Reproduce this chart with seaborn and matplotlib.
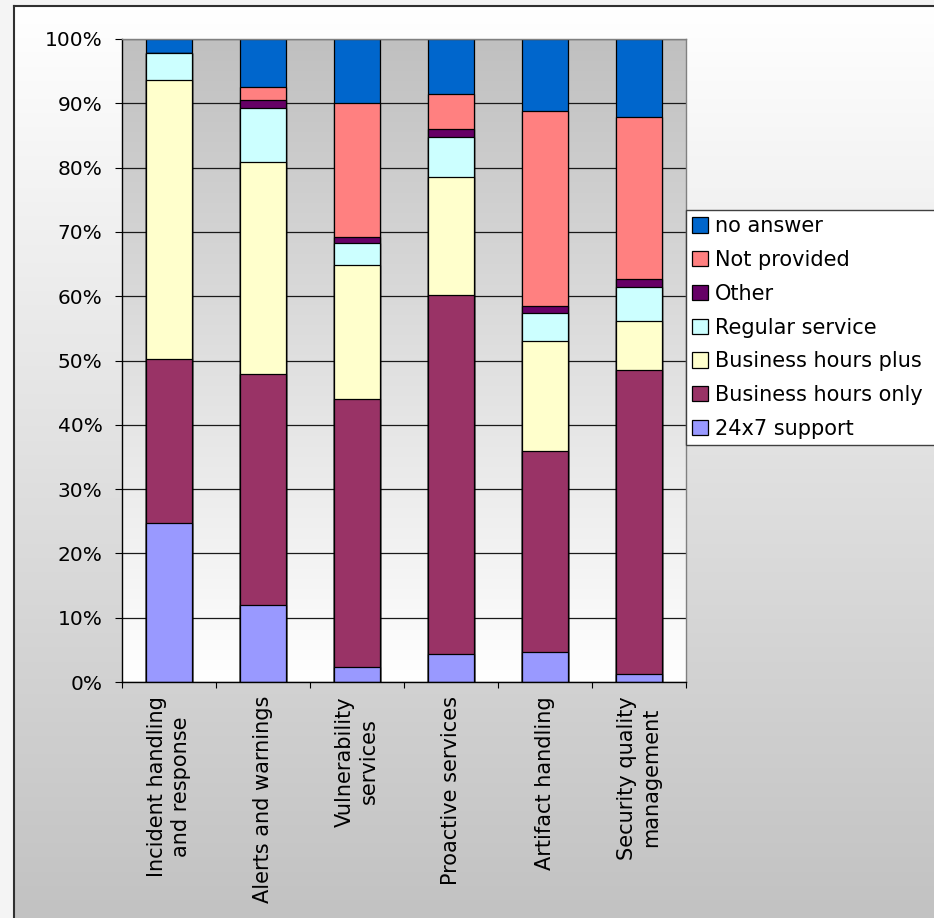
import numpy as np
import pandas as pd
import matplotlib
matplotlib.use("Agg")
import matplotlib.pyplot as plt
from matplotlib.colors import LinearSegmentedColormap
from matplotlib.ticker import FixedLocator
import seaborn as sns

# Service categories (x axis)
services = [
    "Incident handling\nand response",
    "Alerts and warnings",
    "Vulnerability\nservices",
    "Proactive services",
    "Artifact handling",
    "Security quality\nmanagement",
]

# Availability levels, bottom of the stack first
levels = [
    "24x7 support",
    "Business hours only",
    "Business hours plus",
    "Regular service",
    "Other",
    "Not provided",
    "no answer",
]

# Share of respondents per level (percent), one value per service
support_24x7 = [24.7, 11.9, 2.3, 4.4, 4.6, 1.2]
business_hours_only = [25.5, 36.0, 41.7, 55.8, 31.3, 47.3]
business_hours_plus = [43.4, 33.0, 20.9, 18.3, 17.1, 7.6]
regular_service = [4.3, 8.4, 3.3, 6.3, 4.4, 5.4]
other = [0.0, 1.2, 1.0, 1.2, 1.1, 1.1]
not_provided = [0.0, 2.0, 20.8, 5.4, 30.3, 25.2]
no_answer = [2.1, 7.5, 10.0, 8.6, 11.2, 12.2]

level_colors = ["#9999FF", "#993366", "#FFFFCC", "#CCFFFF", "#660066", "#FF8080", "#0066CC"]

y_ticks = [0, 10, 20, 30, 40, 50, 60, 70, 80, 90, 100]
y_tick_labels = [f"{t}%" for t in y_ticks]

series = [support_24x7, business_hours_only, business_hours_plus,
          regular_service, other, not_provided, no_answer]

# Long table with running totals for the stacked bars
rows = []
for lvl, vals in zip(levels, series):
    for svc, v in zip(services, vals):
        rows.append({"service": svc, "level": lvl, "pct": v})
df = pd.DataFrame(rows)
df["level"] = pd.Categorical(df["level"], categories=levels, ordered=True)
df["service"] = pd.Categorical(df["service"], categories=services, ordered=True)
df = df.sort_values(["service", "level"])
df["top"] = df.groupby("service", observed=True)["pct"].cumsum()

W, H = 934, 918
fig = plt.figure(figsize=(W / 100, H / 100), dpi=100)
fig.patch.set_facecolor("#f4f4f4")

# Chart area: white fading to grey downwards, framed on the left and top
bg = fig.add_axes([14 / W, 0, 1 - 14 / W, 1 - 6 / H])
bg.set_zorder(-1)
bg_cmap = LinearSegmentedColormap.from_list("chart_bg", ["#c2c2c2", "#ffffff"])
bg.imshow(np.linspace(0, 1, 256).reshape(-1, 1), extent=[0, 1, 0, 1],
          origin="lower", aspect="auto", cmap=bg_cmap)
bg.set_xlim(0, 1)
bg.set_ylim(0, 1)
bg.set_xticks([])
bg.set_yticks([])
for side in ("right", "bottom"):
    bg.spines[side].set_visible(False)
for side in ("left", "top"):
    bg.spines[side].set_color("#303030")
    bg.spines[side].set_linewidth(1.5)

ax = fig.add_axes([122 / W, 1 - 682 / H, (686 - 122) / W, (682 - 39) / H])
ax.patch.set_visible(False)

# Plot area: grey at the top fading to white at the bottom
pa_cmap = LinearSegmentedColormap.from_list("plot_bg", ["#ffffff", "#c0c0c0"])
ax.imshow(np.linspace(0, 1, 256).reshape(-1, 1), extent=[-0.5, 5.5, 0, 100],
          origin="lower", aspect="auto", cmap=pa_cmap, zorder=0)

# Stacked bars: draw running totals from the top level down
for lvl, col in zip(levels[::-1], level_colors[::-1]):
    sub = df[df["level"] == lvl]
    sns.barplot(data=sub, x="service", y="top", order=services, color=col,
                saturation=1, width=0.48, edgecolor="#000000", linewidth=0.9,
                errorbar=None, label=lvl, ax=ax, zorder=2)

ax.set_xlim(-0.5, 5.5)
ax.set_ylim(0, 100)
ax.set_xlabel("")
ax.set_ylabel("")

ax.set_axisbelow(True)
ax.yaxis.grid(True, color="#1a1a1a", linewidth=0.9)
ax.xaxis.grid(False)

ax.set_yticks(y_ticks, labels=y_tick_labels)
ax.tick_params(axis="y", direction="out", length=5, width=0.8, pad=9,
               labelsize=14.5, color="#000000")
ax.set_xticks(range(len(services)), labels=services)
ax.tick_params(axis="x", which="major", length=0, pad=10, labelsize=15)
for t in ax.get_xticklabels():
    t.set_rotation(90)
    t.set_ha("center")
    t.set_va("top")
    t.set_linespacing(1.25)
ax.xaxis.set_minor_locator(FixedLocator(np.arange(-0.5, 6.0, 1.0)))
ax.tick_params(axis="x", which="minor", direction="out", length=4, width=0.8)

for side in ("left", "bottom"):
    ax.spines[side].set_color("#000000")
    ax.spines[side].set_linewidth(1.0)
for side in ("top", "right"):
    ax.spines[side].set_color("#808080")
    ax.spines[side].set_linewidth(1.0)

# Legend box runs off the right edge of the chart area
leg = ax.legend(loc="upper left",
                bbox_to_anchor=(686 / W, 1 - 210 / H, 270 / W, 0),
                bbox_transform=fig.transFigure, mode="expand",
                frameon=True, fancybox=False,
                framealpha=1, facecolor="#ffffff", edgecolor="#404040",
                fontsize=15, handlelength=0.75, handleheight=0.75,
                handletextpad=0.35, labelspacing=0.66, borderpad=0.3,
                borderaxespad=0)
leg.get_frame().set_linewidth(1.0)

fig.savefig("out.png", dpi=100)
